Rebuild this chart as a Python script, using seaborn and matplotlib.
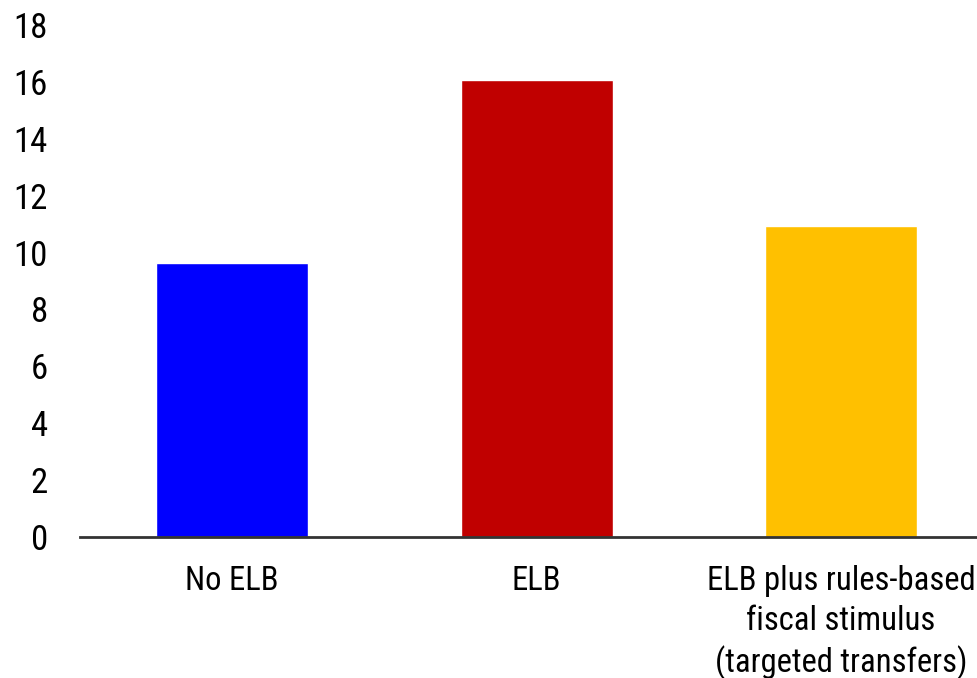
import matplotlib
matplotlib.use("Agg")
import matplotlib.pyplot as plt
from matplotlib import font_manager as fm
import seaborn as sns
import pandas as pd

categories = ["No ELB", "ELB", "ELB plus rules-based\nfiscal stimulus\n(targeted transfers)"]
values = [9.63, 16.07, 10.93]
colors = ["#0000FF", "#C00000", "#FFC000"]
yticks = [0, 2, 4, 6, 8, 10, 12, 14, 16, 18]

sns.set_theme(style="white")
installed = {f.name for f in fm.fontManager.ttflist}
narrow = [n for n in ["Liberation Sans Narrow", "Arial Narrow", "Roboto Condensed",
                      "Archivo Narrow"] if n in installed]
plt.rcParams["font.family"] = narrow[:1] + ["Liberation Sans", "DejaVu Sans"]

df = pd.DataFrame({"scenario": categories, "value": values})

fig = plt.figure(figsize=(9.78, 6.78), dpi=100)
ax = fig.add_axes([0.0818, 0.208, 0.9182, 0.7551])
sns.barplot(data=df, x="scenario", y="value", hue="scenario", palette=colors,
            width=0.5, saturation=1, legend=False, ax=ax)

ax.set_ylim(0, 18)
ax.set_xlim(-0.5, 2.45)
ax.set_yticks(yticks)
ax.set_yticklabels([str(t) for t in yticks])
ax.set_xlabel("")
ax.set_ylabel("")
for s in ["top", "right", "left"]:
    ax.spines[s].set_visible(False)
ax.spines["bottom"].set_color("#333333")
ax.spines["bottom"].set_linewidth(2)
ax.tick_params(axis="both", length=0, colors="black")
ax.tick_params(axis="y", pad=23, labelsize=25)
ax.tick_params(axis="x", pad=20, labelsize=23.5)
for lbl in ax.get_xticklabels():
    lbl.set_linespacing(1.32)

fig.savefig("out.png", dpi=100)
